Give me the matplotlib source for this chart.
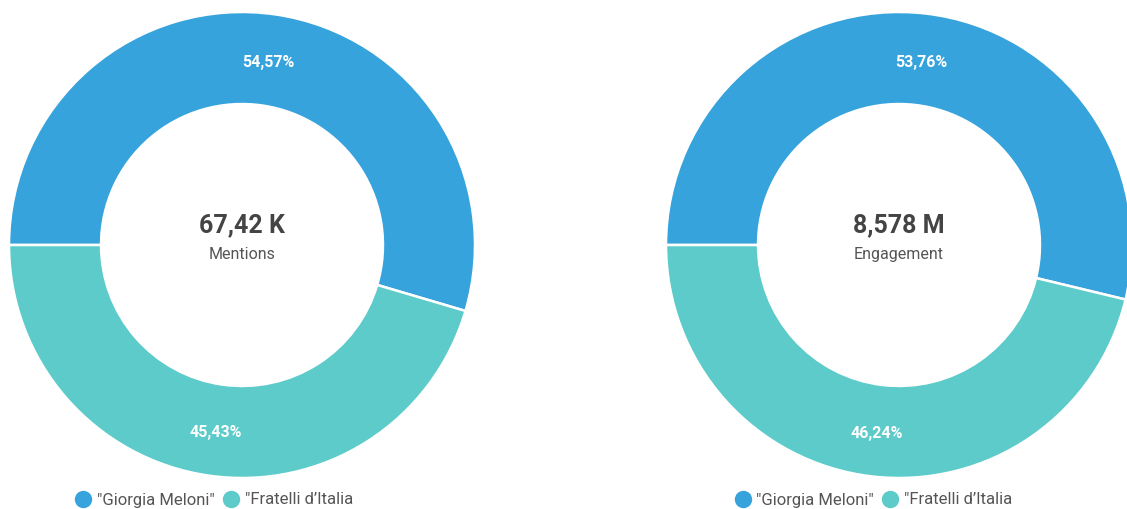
import matplotlib.pyplot as plt
from matplotlib.lines import Line2D

plt.rcParams['font.family'] = ['Roboto', 'DejaVu Sans']

series = ['"Giorgia Meloni"', '"Fratelli d\u2019Italia']
colors = ['#36a3dc', '#5ccbca']

mentions_pct = [54.57, 45.43]
engagement_pct = [53.76, 46.24]
totals = ['67,42 K', '8,578 M']
metrics = ['Mentions', 'Engagement']

fig = plt.figure(figsize=(11.27, 5.09), dpi=100)
W, H = 1127, 509

# axes boxes in pixels: left, bottom, size
boxes = [(9, 31, 466), (666, 31, 466)]
legend_x = [214, 873]

for (x0, y0, s), vals, total, metric, lx in zip(boxes, [mentions_pct, engagement_pct],
                                                totals, metrics, legend_x):
    ax = fig.add_axes([x0 / W, y0 / H, s / W, s / H])
    wedges, _, autotexts = ax.pie(
        vals, colors=colors, startangle=180, counterclock=False, radius=1,
        autopct=lambda p: f'{p:.2f}%'.replace('.', ','), pctdistance=0.80,
        wedgeprops=dict(width=0.395, edgecolor='white', linewidth=1.8),
        textprops=dict(color='white', fontsize=11.5, fontweight='bold'))
    for t in autotexts:
        x, y = t.get_position()
        t.set_position((x, y - 0.01 if y > 0 else y - 0.015))
    ax.set_xlim(-1, 1)
    ax.set_ylim(-1, 1)
    ax.set_aspect('equal')
    ax.axis('off')
    ax.text(0, 0.085, total, ha='center', va='center', fontsize=18,
            fontweight='bold', color='#444444')
    ax.text(0, -0.04, metric, ha='center', va='center', fontsize=11.5,
            color='#555555')

    handles = [Line2D([], [], marker='o', linestyle='', markersize=11.5,
                      markerfacecolor=c, markeredgecolor=c) for c in colors]
    fig.legend(handles, series, loc='center', ncol=2,
               bbox_to_anchor=(lx / W, (H - 500) / H), frameon=False,
               fontsize=12, handletextpad=0.3, columnspacing=0.5,
               handlelength=1.0, labelcolor='#555555', borderpad=0)

fig.savefig('out.png', dpi=100, facecolor='white')
